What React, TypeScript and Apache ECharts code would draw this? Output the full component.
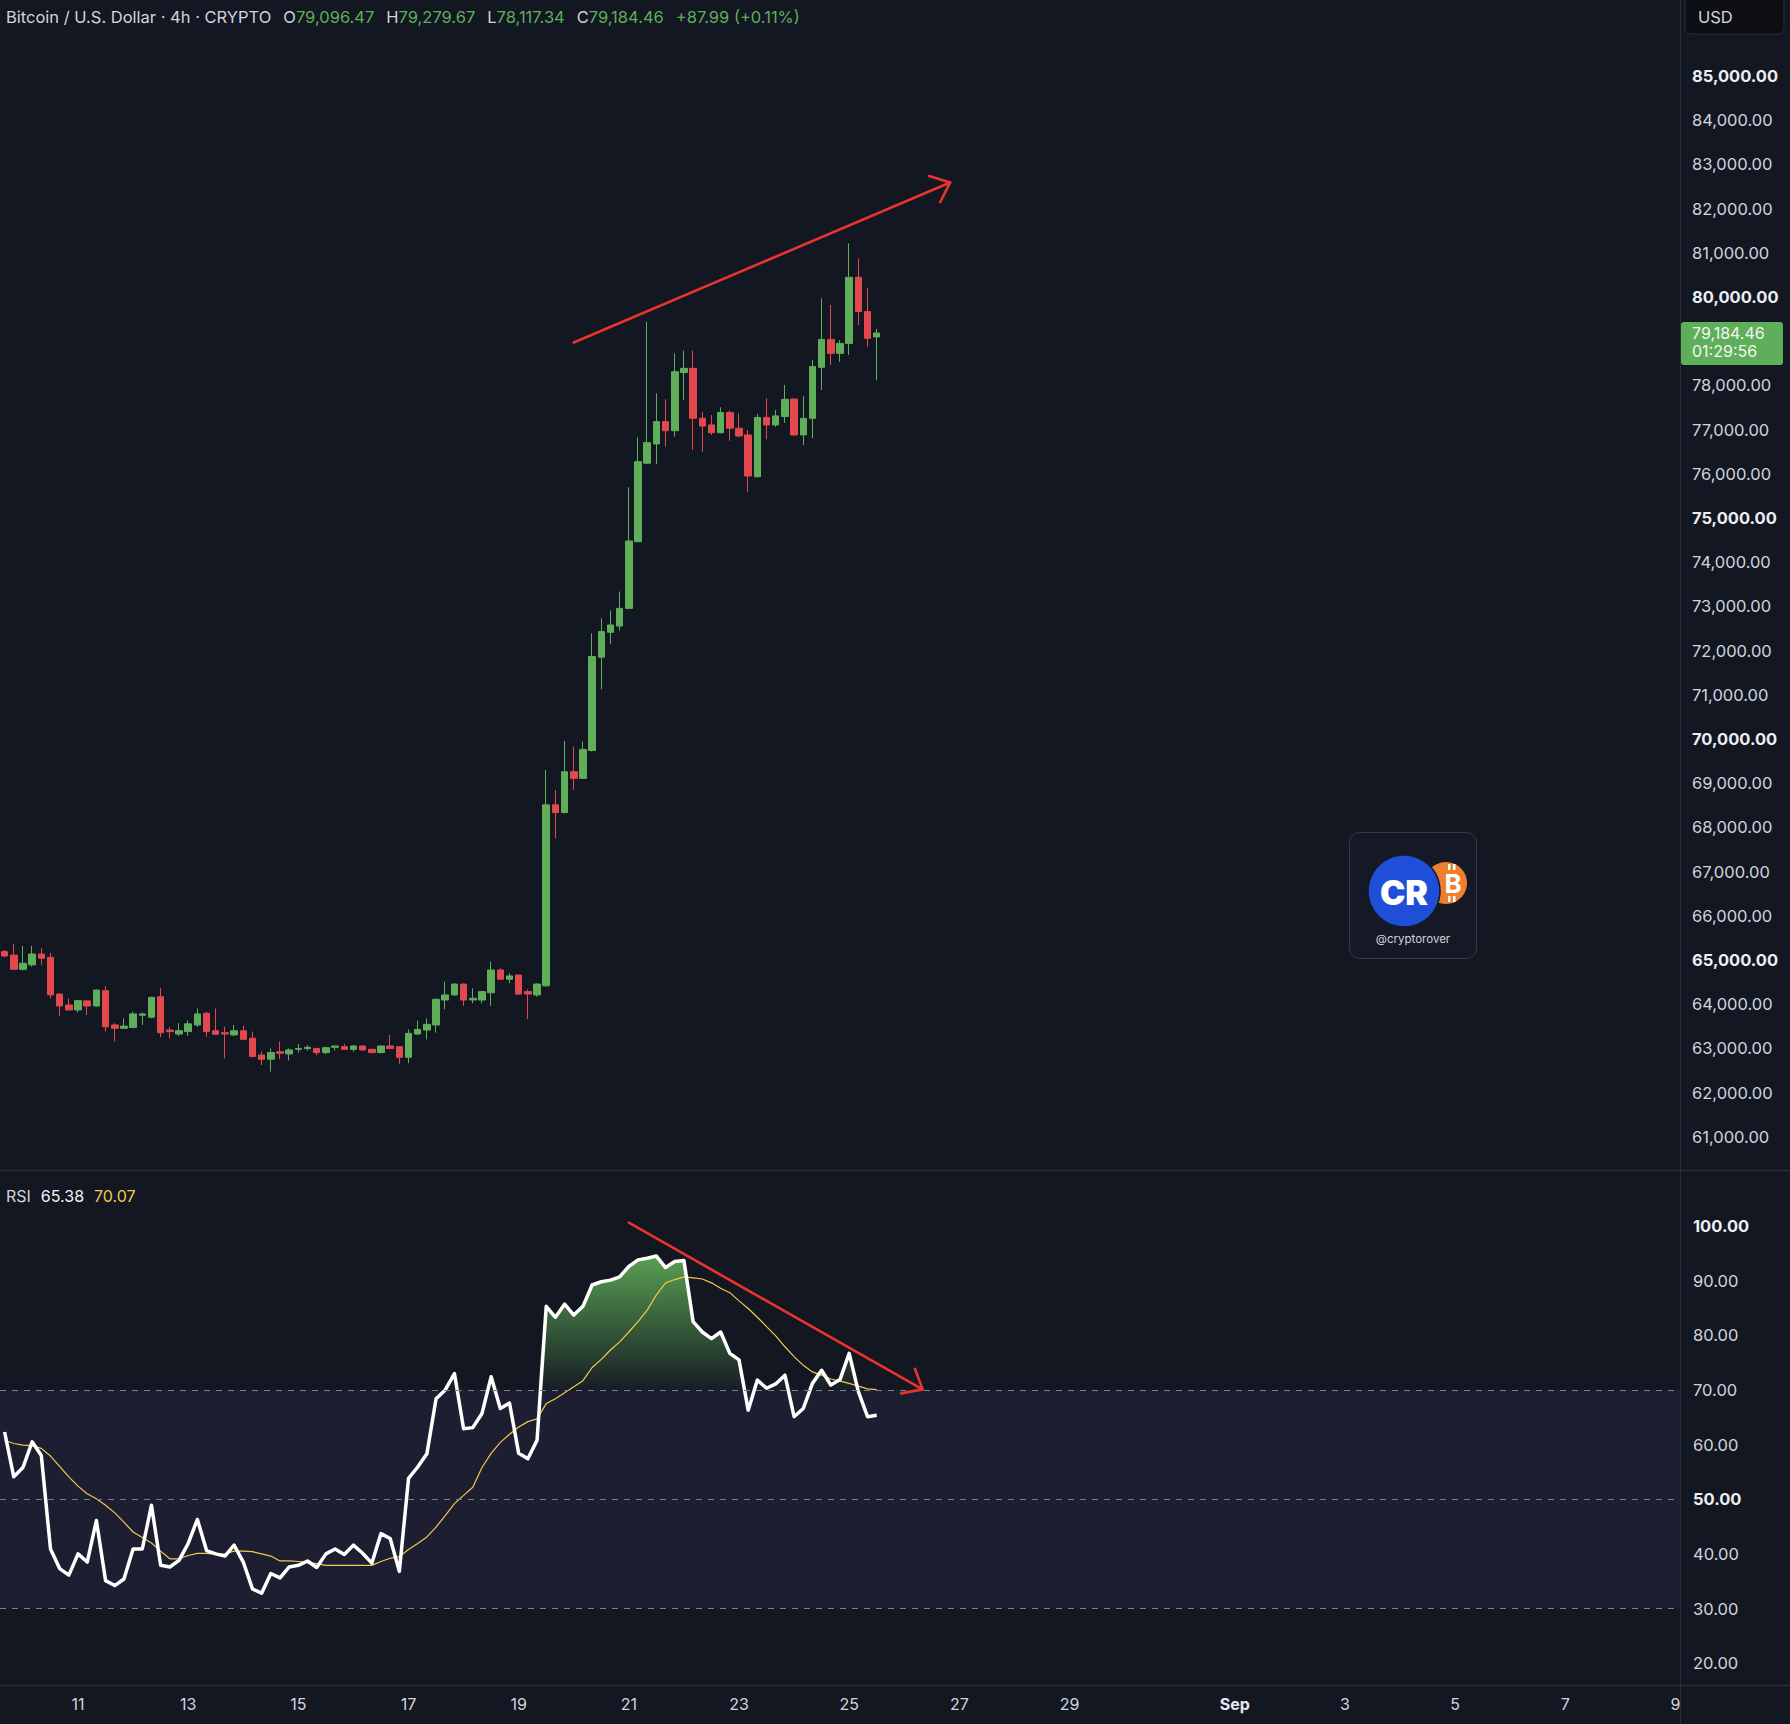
import React, { useEffect, useRef } from "react";
import * as echarts from "echarts";

// ---------- data ----------
// 4h candles, [open, close, low, high], first bar = Aug 9 16:00, last = Aug 25 12:00
const candles: number[][] = [
  [65190, 65090, 65060, 65230],
  [65110, 64790, 64770, 65360],
  [64790, 64925, 64760, 65320],
  [64890, 65135, 64850, 65320],
  [65135, 65040, 64890, 65265],
  [65060, 64210, 64130, 65165],
  [64230, 63960, 63735, 64240],
  [63980, 63870, 63855, 64130],
  [63870, 64080, 63810, 64095],
  [64075, 63960, 63755, 64085],
  [63960, 64320, 63945, 64330],
  [64305, 63490, 63380, 64410],
  [63530, 63455, 63155, 63570],
  [63455, 63505, 63440, 63680],
  [63475, 63780, 63455, 63830],
  [63750, 63780, 63530, 63810],
  [63705, 64155, 63680, 64170],
  [64170, 63355, 63250, 64360],
  [63415, 63380, 63230, 63490],
  [63325, 63400, 63280, 63570],
  [63380, 63555, 63280, 63630],
  [63530, 63780, 63490, 63905],
  [63795, 63380, 63265, 63830],
  [63400, 63320, 63305, 63905],
  [63355, 63325, 62775, 63490],
  [63305, 63400, 63280, 63530],
  [63400, 63205, 63190, 63515],
  [63230, 62815, 62800, 63380],
  [62850, 62755, 62625, 62925],
  [62755, 62905, 62475, 63000],
  [62925, 62890, 62755, 63155],
  [62875, 62965, 62725, 63000],
  [62980, 63000, 62905, 63100],
  [62995, 63025, 62950, 63075],
  [63000, 62905, 62850, 63005],
  [62905, 63015, 62875, 63040],
  [63025, 63055, 62950, 63060],
  [63040, 62980, 62965, 63100],
  [62980, 63055, 62925, 63075],
  [63055, 62965, 62950, 63075],
  [62980, 62905, 62890, 62990],
  [62905, 63055, 62890, 63060],
  [63055, 63000, 62980, 63305],
  [63040, 62800, 62650, 63045],
  [62800, 63340, 62665, 63430],
  [63325, 63430, 63305, 63630],
  [63415, 63545, 63205, 63680],
  [63530, 64110, 63355, 64135],
  [64095, 64210, 63885, 64510],
  [64210, 64455, 64185, 64475],
  [64455, 64095, 63960, 64470],
  [64095, 64135, 64020, 64360],
  [64095, 64285, 64020, 64305],
  [64260, 64775, 63960, 64965],
  [64775, 64565, 64550, 64810],
  [64565, 64640, 64475, 64700],
  [64660, 64230, 64210, 64665],
  [64285, 64230, 63660, 64335],
  [64210, 64455, 64170, 64475],
  [64415, 68510, 64400, 69300],
  [68510, 68335, 67755, 68845],
  [68335, 69260, 68320, 69955],
  [69260, 69110, 68845, 69825],
  [69110, 69765, 69095, 69940],
  [69740, 71865, 69720, 72390],
  [71850, 72430, 71125, 72730],
  [72415, 72580, 72150, 72905],
  [72555, 72955, 72450, 73335],
  [72955, 74480, 72940, 75695],
  [74465, 76275, 74450, 76825],
  [76240, 76705, 76220, 79440],
  [76675, 77180, 76220, 77820],
  [77180, 76975, 76615, 77685],
  [76975, 78310, 76840, 78725],
  [78290, 78385, 77670, 78785],
  [78385, 77255, 76540, 78785],
  [77255, 77080, 76500, 77405],
  [77105, 76930, 76880, 77330],
  [76930, 77385, 76915, 77505],
  [77385, 77030, 76750, 77430],
  [77030, 76855, 76825, 77370],
  [76880, 75950, 75595, 76990],
  [75935, 77275, 75920, 77355],
  [77275, 77105, 76780, 77705],
  [77105, 77310, 77065, 77445],
  [77295, 77685, 77155, 78010],
  [77690, 76880, 76855, 77705],
  [76880, 77255, 76650, 77760],
  [77255, 78425, 76805, 78575],
  [78410, 79040, 77895, 79970],
  [79040, 78725, 78460, 79820],
  [78725, 78950, 78535, 79025],
  [78950, 80445, 78690, 81215],
  [80445, 79670, 79365, 80875],
  [79670, 79065, 78875, 80195],
  [79096.47, 79184.46, 78117.34, 79279.67],
];

const rsiValues = [
  62.3, 54.1, 55.8, 60.5, 58.0, 40.9, 37.3, 36.1, 40.0, 38.5,
  46.1, 35.1, 34.2, 35.4, 40.9, 40.9, 48.9, 37.9, 37.6, 38.8,
  41.9, 46.3, 40.6, 40.0, 39.6, 41.6, 38.5, 33.6, 32.8, 36.4,
  35.6, 37.6, 37.9, 38.7, 37.5, 40.0, 40.9, 39.9, 41.6, 40.1,
  38.3, 43.7, 42.8, 36.8, 53.8, 55.9, 58.3, 68.4, 70.0, 73.0,
  62.9, 63.1, 65.7, 72.4, 66.6, 67.6, 58.4, 57.4, 60.8, 85.3,
  83.3, 85.7, 83.7, 85.3, 89.2, 89.8, 90.1, 90.7, 92.6, 93.8,
  94.1, 94.5, 92.4, 93.5, 93.7, 82.5, 80.6, 79.4, 80.6, 76.7,
  75.5, 66.3, 71.8, 70.3, 71.1, 72.7, 65.1, 66.6, 71.2, 73.6,
  70.9, 71.9, 76.7, 69.7, 65.1, 65.38,
];

const rsiMaValues = [
  60.8, 60.2, 59.9, 59.8, 59.3, 57.9, 56.0, 54.1, 52.4, 51.0,
  50.1, 48.9, 47.5, 45.8, 44.0, 43.0, 42.0, 40.5, 39.1, 39.1,
  39.7, 40.1, 40.1, 39.9, 40.0, 40.5, 40.5, 40.4, 40.0, 39.6,
  38.7, 38.7, 38.6, 38.4, 38.2, 37.9, 37.9, 37.9, 37.9, 37.9,
  37.9, 38.6, 39.2, 39.5, 40.8, 41.9, 43.1, 44.9, 47.0, 49.2,
  50.7, 52.2, 55.8, 58.4, 60.4, 61.9, 63.2, 64.2, 64.7, 67.5,
  68.4, 69.5, 70.6, 71.7, 74.1, 75.6, 77.3, 78.8, 80.6, 82.5,
  84.6, 87.4, 89.6, 90.2, 90.7, 90.5, 90.3, 89.6, 88.6, 87.8,
  86.3, 84.9, 83.3, 81.6, 79.9, 77.9, 76.1, 74.5, 73.3, 72.7,
  72.0, 71.6, 71.2, 70.7, 70.2, 70.07,
];

// 79,000 sits under the last-price label in the reference, so it is not listed
const priceTicks = [
  61000, 62000, 63000, 64000, 65000, 66000, 67000, 68000, 69000, 70000, 71000, 72000, 73000,
  74000, 75000, 76000, 77000, 78000, 80000, 81000, 82000, 83000, 84000, 85000,
];
const rsiTicks = [20, 30, 40, 50, 60, 70, 80, 90, 100];
const rsiLevels = [70, 50, 30];
const xTickLabels = ["11", "13", "15", "17", "19", "21", "23", "25", "27", "29", "Sep", "3", "5", "7", "9"];
const xTickDayOffsets = [0, 2, 4, 6, 8, 10, 12, 14, 16, 18, 21, 23, 25, 27, 29];

// trend drawings, [bar index, value]
const priceArrow = [[62, 78970], [103, 82590]];
const rsiArrow = [[68, 100.6], [100, 70.1]];

const countdown = "01:29:56";

// ---------- layout / style ----------
const UP = "#5fae5a";
const DOWN = "#e2484e";
const BG = "#131722";
const SEP = "#2a2e39";
const RED = "#e8342c";
const TXT = "#d1d4dc";
const FONT = "Inter, 'Noto Sans', 'DejaVu Sans', sans-serif";
const OVERBOUGHT = 70;
const BARS_BEFORE_AUG11 = 8;
const CATEGORY_COUNT = 183;
const PRICE_MIN = 60249;
const PRICE_MAX = 86719;
const RSI_MIN = 16;
const RSI_MAX = 110.25;

const MONTHS = ["Jan", "Feb", "Mar", "Apr", "May", "Jun", "Jul", "Aug", "Sep", "Oct", "Nov", "Dec"];
const categories = Array.from({ length: CATEGORY_COUNT }, (_, j) => {
  const t = new Date(Date.UTC(2024, 7, 11) + (j - BARS_BEFORE_AUG11) * 4 * 3600 * 1000);
  return `${MONTHS[t.getUTCMonth()]} ${t.getUTCDate()} ${String(t.getUTCHours()).padStart(2, "0")}:00`;
});
const tickAt = new Map<number, string>(
  xTickDayOffsets.map((d, n) => [BARS_BEFORE_AUG11 + d * 6, xTickLabels[n]] as [number, string])
);

const fmt = (v: number) =>
  v.toLocaleString("en-US", { minimumFractionDigits: 2, maximumFractionDigits: 2 });

function arrowElements(p0: number[], p1: number[]) {
  const dx = p0[0] - p1[0];
  const dy = p0[1] - p1[1];
  const len = Math.hypot(dx, dy);
  const ux = dx / len;
  const uy = dy / len;
  const a = (40 * Math.PI) / 180;
  const L = 22;
  const side = (s: number) => [
    p1[0] + L * (ux * Math.cos(s * a) - uy * Math.sin(s * a)),
    p1[1] + L * (ux * Math.sin(s * a) + uy * Math.cos(s * a)),
  ];
  return [
    {
      type: "line",
      z: 100,
      silent: true,
      shape: { x1: p0[0], y1: p0[1], x2: p1[0], y2: p1[1] },
      style: { stroke: RED, lineWidth: 2.6, lineCap: "round" },
    },
    {
      type: "polyline",
      z: 100,
      silent: true,
      shape: { points: [side(1), p1, side(-1)] },
      style: { stroke: RED, lineWidth: 2.6, fill: null, lineCap: "round", lineJoin: "round" },
    },
  ];
}

export default function App() {
  const ref = useRef<HTMLDivElement>(null);

  useEffect(() => {
    document.body.style.margin = "0";
    document.body.style.background = BG;
    const chart = echarts.init(ref.current!, null, { renderer: "svg" });

    const last = candles[candles.length - 1];
    const [lo, lc, ll, lh] = last;
    const chg = lc - lo;
    const chgPct = (chg / lo) * 100;

    const option: any = {
      animation: false,
      backgroundColor: BG,
      textStyle: { fontFamily: FONT },
      grid: [
        { left: -1, right: 110, top: 0, height: 1170 },
        { left: -1, right: 110, top: 1170, height: 515 },
      ],
      xAxis: [
        { type: "category", gridIndex: 0, data: categories, boundaryGap: true, show: false },
        {
          type: "category",
          gridIndex: 1,
          data: categories,
          boundaryGap: true,
          axisLine: { show: false },
          axisTick: { show: false },
          splitLine: { show: false },
          axisLabel: {
            interval: (index: number) => tickAt.has(index),
            formatter: (_v: string, index: number) => {
              const l = tickAt.get(index) ?? "";
              return l === "Sep" ? `{b|${l}}` : `{n|${l}}`;
            },
            margin: 11,
            rich: {
              n: { fontSize: 16, color: TXT, fontFamily: FONT },
              b: { fontSize: 16, color: "#e6e8ee", fontWeight: "bold", fontFamily: FONT },
            },
          },
        },
      ],
      yAxis: [
        {
          type: "value",
          gridIndex: 0,
          position: "right",
          min: PRICE_MIN,
          max: PRICE_MAX,
          splitLine: { show: false },
          axisLine: { show: false },
          axisTick: { show: false },
          axisLabel: {
            customValues: priceTicks,
            margin: 12,
            formatter: (v: number) => (v % 5000 === 0 ? `{b|${fmt(v)}}` : `{n|${fmt(v)}}`),
            rich: {
              n: { fontSize: 16.5, color: TXT, fontFamily: FONT },
              b: { fontSize: 16.5, color: "#eceef3", fontWeight: "bold", fontFamily: FONT },
            },
          },
        },
        {
          type: "value",
          gridIndex: 1,
          position: "right",
          min: RSI_MIN,
          max: RSI_MAX,
          splitLine: { show: false },
          axisLine: { show: false },
          axisTick: { show: false },
          axisLabel: {
            customValues: rsiTicks,
            margin: 13,
            formatter: (v: number) => (v % 50 === 0 ? `{b|${v.toFixed(2)}}` : `{n|${v.toFixed(2)}}`),
            rich: {
              n: { fontSize: 16.5, color: TXT, fontFamily: FONT },
              b: { fontSize: 16.5, color: "#eceef3", fontWeight: "bold", fontFamily: FONT },
            },
          },
        },
      ],
      series: [
        {
          type: "candlestick",
          name: "BTCUSD",
          xAxisIndex: 0,
          yAxisIndex: 0,
          data: candles,
          barWidth: 7,
          itemStyle: {
            color: UP,
            color0: DOWN,
            borderColor: UP,
            borderColor0: DOWN,
            borderWidth: 1,
          },
        },
        {
          type: "line",
          name: "obBase",
          xAxisIndex: 1,
          yAxisIndex: 1,
          data: rsiValues.map(() => OVERBOUGHT),
          stack: "ob",
          symbol: "none",
          silent: true,
          lineStyle: { opacity: 0, width: 0 },
          z: 1,
        },
        {
          type: "line",
          name: "obFill",
          xAxisIndex: 1,
          yAxisIndex: 1,
          data: rsiValues.map((v) => Math.max(v - OVERBOUGHT, 0)),
          stack: "ob",
          symbol: "none",
          silent: true,
          lineStyle: { opacity: 0, width: 0 },
          areaStyle: {
            opacity: 1,
            color: new echarts.graphic.LinearGradient(0, 0, 0, 1, [
              { offset: 0, color: "rgba(98,178,88,0.88)" },
              { offset: 1, color: "rgba(98,178,88,0.04)" },
            ]),
          },
          z: 2,
        },
        {
          type: "line",
          name: "RSI MA",
          xAxisIndex: 1,
          yAxisIndex: 1,
          data: rsiMaValues,
          symbol: "none",
          lineStyle: { color: "#f2c94c", width: 1.2 },
          z: 3,
        },
        {
          type: "line",
          name: "RSI",
          xAxisIndex: 1,
          yAxisIndex: 1,
          data: rsiValues,
          symbol: "none",
          lineStyle: { color: "#ffffff", width: 3.5, join: "round" },
          z: 4,
          markArea: {
            silent: true,
            itemStyle: { color: "rgba(126,87,194,0.11)" },
            data: [[{ yAxis: 30 }, { yAxis: 70 }]],
          },
          markLine: {
            silent: true,
            symbol: "none",
            label: { show: false },
            lineStyle: { color: "#7c7f8a", width: 1, type: [6, 6] },
            data: rsiLevels.map((v) => ({ yAxis: v })),
          },
        },
      ],
    };
    chart.setOption(option);

    const toPx = (grid: number, p: number[]) => chart.convertToPixel({ gridIndex: grid }, p) as number[];
    const py = chart.convertToPixel({ yAxisIndex: 0 }, lc) as number;

    const graphic: any[] = [
      // pane separators
      { type: "line", z: 50, silent: true, shape: { x1: 1680.5, y1: 0, x2: 1680.5, y2: 1724 }, style: { stroke: SEP, lineWidth: 1 } },
      { type: "line", z: 50, silent: true, shape: { x1: 0, y1: 1170.5, x2: 1790, y2: 1170.5 }, style: { stroke: SEP, lineWidth: 1.5 } },
      { type: "line", z: 50, silent: true, shape: { x1: 0, y1: 1685.5, x2: 1790, y2: 1685.5 }, style: { stroke: SEP, lineWidth: 1.5 } },
      // USD box
      {
        type: "rect",
        z: 60,
        silent: true,
        shape: { x: 1685, y: -8, width: 99, height: 42, r: 6 },
        style: { fill: "#0d0f15", stroke: SEP, lineWidth: 1 },
      },
      {
        type: "text",
        z: 61,
        silent: true,
        x: 1698,
        y: 17,
        style: { text: "USD", fill: TXT, fontSize: 16.5, fontFamily: FONT, verticalAlign: "middle" },
      },
      // header
      {
        type: "text",
        z: 61,
        silent: true,
        x: 6,
        y: 17,
        style: {
          text:
            `{t|Bitcoin / U.S. Dollar · 4h · CRYPTO}{l|O}{v|${fmt(lo)}}{l|H}{v|${fmt(lh)}}{l|L}{v|${fmt(ll)}}` +
            `{l|C}{v|${fmt(lc)}}{c|${chg >= 0 ? "+" : ""}${fmt(chg)} (${chg >= 0 ? "+" : ""}${chgPct.toFixed(2)}%)}`,
          verticalAlign: "middle",
          fontFamily: FONT,
          fontSize: 16.5,
          rich: {
            t: { fill: TXT, fontSize: 16.5, fontFamily: FONT },
            l: { fill: TXT, fontSize: 16.5, fontFamily: FONT, padding: [0, 0, 0, 12] },
            v: { fill: UP, fontSize: 16.5, fontFamily: FONT },
            c: { fill: UP, fontSize: 16.5, fontFamily: FONT, padding: [0, 0, 0, 12] },
          },
        },
      },
      // RSI legend
      {
        type: "text",
        z: 61,
        silent: true,
        x: 6,
        y: 1196,
        style: {
          text: `{a|RSI}{b|${fmt(rsiValues[rsiValues.length - 1])}}{c|${fmt(rsiMaValues[rsiMaValues.length - 1])}}`,
          verticalAlign: "middle",
          fontFamily: FONT,
          fontSize: 16,
          rich: {
            a: { fill: TXT, fontSize: 16, fontFamily: FONT },
            b: { fill: "#f0f2f6", fontSize: 16, fontFamily: FONT, padding: [0, 0, 0, 10] },
            c: { fill: "#f2c94c", fontSize: 16, fontFamily: FONT, padding: [0, 0, 0, 10] },
          },
        },
      },
      // last price label
      {
        type: "rect",
        z: 60,
        silent: true,
        shape: { x: 1681, y: py - 11, width: 102, height: 43, r: 3 },
        style: { fill: UP },
      },
      {
        type: "text",
        z: 61,
        silent: true,
        x: 1692,
        y: py - 9,
        style: {
          text: `${fmt(lc)}\n${countdown}`,
          fill: "#f2f7f1",
          fontSize: 16,
          lineHeight: 18,
          fontFamily: FONT,
          verticalAlign: "top",
        },
      },
      // arrows
      ...arrowElements(toPx(0, priceArrow[0]), toPx(0, priceArrow[1])),
      ...arrowElements(toPx(1, rsiArrow[0]), toPx(1, rsiArrow[1])),
      // watermark logo
      {
        type: "group",
        z: 40,
        silent: true,
        children: [
          {
            type: "rect",
            shape: { x: 1349.5, y: 832.5, width: 127, height: 126, r: 10 },
            style: { fill: "#151925", stroke: "#363a47", lineWidth: 1 },
          },
          { type: "circle", shape: { cx: 1446, cy: 883, r: 21 }, style: { fill: "#ee7f2d" } },
          { type: "rect", shape: { x: 1448, y: 864, width: 2.5, height: 6 }, style: { fill: "#ffffff" } },
          { type: "rect", shape: { x: 1453, y: 864, width: 2.5, height: 6 }, style: { fill: "#ffffff" } },
          { type: "rect", shape: { x: 1448, y: 896, width: 2.5, height: 6 }, style: { fill: "#ffffff" } },
          { type: "rect", shape: { x: 1453, y: 896, width: 2.5, height: 6 }, style: { fill: "#ffffff" } },
          {
            type: "text",
            x: 1453,
            y: 883,
            style: {
              text: "B",
              fill: "#ffffff",
              fontSize: 26,
              fontWeight: "bold",
              fontFamily: FONT,
              align: "center",
              verticalAlign: "middle",
            },
          },
          { type: "circle", shape: { cx: 1404, cy: 891, r: 36 }, style: { fill: "#1f4fd8", stroke: "#151925", lineWidth: 1.5 } },
          {
            type: "text",
            x: 1404,
            y: 892,
            style: {
              text: "CR",
              fill: "#ffffff",
              fontSize: 34,
              fontWeight: 900,
              fontFamily: FONT,
              align: "center",
              verticalAlign: "middle",
            },
          },
          {
            type: "text",
            x: 1413,
            y: 939,
            style: {
              text: "@cryptorover",
              fill: TXT,
              fontSize: 11.5,
              fontFamily: FONT,
              align: "center",
              verticalAlign: "middle",
            },
          },
        ],
      },
    ];
    chart.setOption({ graphic });

    return () => chart.dispose();
  }, []);

  return (
    <div
      ref={ref}
      style={{ position: "fixed", left: 0, top: 0, width: 1790, height: 1724, background: BG }}
    />
  );
}
